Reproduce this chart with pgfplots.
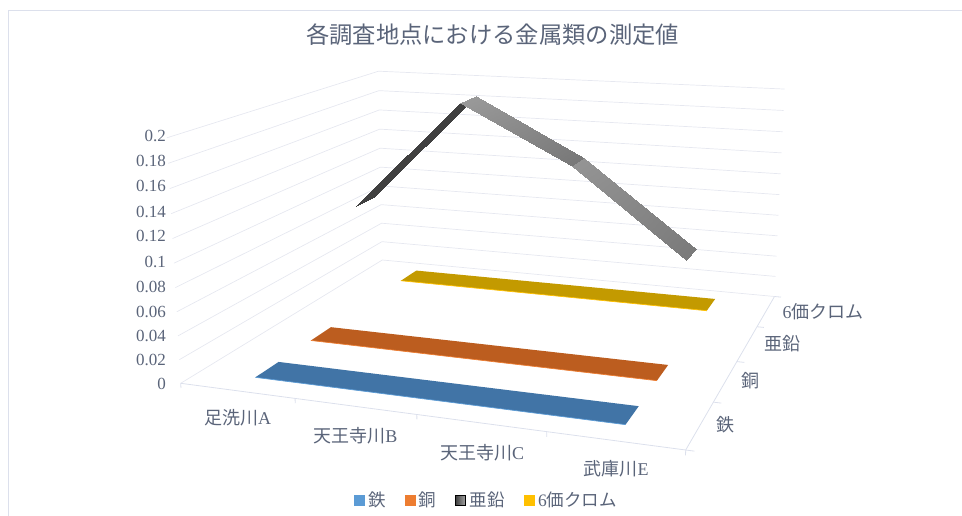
\documentclass[border=0pt]{standalone}
\usepackage{fontspec}
\usepackage{pgfplots}
\usepackage{pgfplotstable}
\pgfplotsset{compat=1.18}
\setmainfont{Liberation Serif}
\newfontfamily\cjk{Noto Sans CJK JP}

\definecolor{inkslate}{HTML}{5A6479}
\definecolor{gridc}{HTML}{E6E8F0}
\definecolor{axisc}{HTML}{DCE0EC}
\definecolor{ironface}{HTML}{4174A6}
\definecolor{ironedge}{HTML}{5B9BD5}
\definecolor{copperface}{HTML}{BC5D1F}
\definecolor{copperedge}{HTML}{ED7D31}
\definecolor{chromeface}{HTML}{C39A00}
\definecolor{chromeedge}{HTML}{FFC000}

% Perspective projection of the unit box (x: sites, y: metals, z: value/0.2) to page units
\newcommand\pw[3]{(1-0.1218*(#1)+0.31519*(#2)-0.042*(#3))}
\newcommand\pu[3]{((180.7+421.48*(#1)+322.10*(#2)-20.8*(#3))/\pw{#1}{#2}{#3})}
\newcommand\pv[3]{((383.3+11.89*(#1)-41.35*(#2)-251.3*(#3))/\pw{#1}{#2}{#3})}

% Box coordinates of a ribbon vertex: site index, metal index, side of the ribbon, value
\newcommand\cx{((\thisrow{site}+0.5)/4)}
\newcommand\cy[1]{((#1+0.5)/4+0.05*\thisrow{side})}
\newcommand\cz{(\thisrow{val}/0.2)}
\pgfplotsset{
  table/ribbon/.style={
    x expr={\pu{\cx}{\cy{#1}}{\cz}},
    y expr={\pv{\cx}{\cy{#1}}{\cz}}}
}
\newcommand\valuelabel[2]{\node[anchor=east, inner sep=0pt, text=inkslate, font=\fontsize{17}{17}\selectfont] at (axis cs:166,#2) {#1};}
\newcommand\boxlabel[3]{\node[text=inkslate, font=\fontsize{18}{18}\selectfont] at (axis cs:#1,#2) {#3};}

% Measured values; each site appears on the front (-1) and the back (+1) edge of its ribbon
\pgfplotstableread{
site side val
0 -1 0.001
1 -1 0.001
2 -1 0.001
3 -1 0.001
3 1 0.001
2 1 0.001
1 1 0.001
0 1 0.001
}\tabIron
\pgfplotstableread{
site side val
0 -1 0.001
1 -1 0.001
2 -1 0.001
3 -1 0.001
3 1 0.001
2 1 0.001
1 1 0.001
0 1 0.001
}\tabCopper
\pgfplotstableread{
site side val
0 -1 0.001
1 -1 0.001
2 -1 0.001
3 -1 0.001
3 1 0.001
2 1 0.001
1 1 0.001
0 1 0.001
}\tabChrome
% Zinc is built from one shaded quad per segment; tone is the grey level at each vertex
\pgfplotstableread{
site side val tone
0 -1 0.1 0.25
1 -1 0.2 0.25
1 1 0.2 0.25
0 1 0.1 0.25
1 -1 0.2 0.60
2 -1 0.15 0.47
2 1 0.15 0.47
1 1 0.2 0.60
2 -1 0.15 0.58
3 -1 0.075 0.48
3 1 0.075 0.48
2 1 0.15 0.58
}\tabZinc

% Wall gridline: left wall then back wall at one level
\pgfplotstableread{
x y
0 0
0 1
1 1
}\tabWall
\pgfplotstableread{
x y
0 0
1 0
1 1
}\tabFloorEdge

\begin{document}
\begin{tikzpicture}
\begin{axis}[
  scale only axis, width=962pt, height=516pt,
  xmin=0, xmax=962, ymin=0, ymax=516, y dir=reverse,
  axis lines=none, clip=true,
  colormap={tones}{gray(0cm)=(0); gray(1cm)=(1)},
  point meta min=0, point meta max=1,
  legend columns=4,
  legend cell align=left,
  legend style={
    at={(axis description cs:0.5055,0.031)}, anchor=center,
    draw=none, fill=none, font=\fontsize{17.5}{17.5}\selectfont\color{inkslate},
    /tikz/every even column/.append style={column sep=17pt},
    /tikz/every odd column/.append style={column sep=2pt},
  },
]
% page extent
\path (axis cs:0,0) rectangle (axis cs:962,516);
% chart frame
\addplot[axisc, line width=0.8pt, forget plot] coordinates {(8,516) (8,10) (962,10)};

% wall gridlines
\pgfplotsinvokeforeach{0,0.02,0.04,0.06,0.08,0.1,0.12,0.14,0.16,0.18,0.2}{
  \addplot[gridc, line width=0.7pt, forget plot] table[
    x expr={\pu{\thisrow{x}}{\thisrow{y}}{#1/0.2}},
    y expr={\pv{\thisrow{x}}{\thisrow{y}}{#1/0.2}}] {\tabWall};
}
% floor edges and their tick marks
\addplot[axisc, line width=0.8pt, forget plot] table[
    x expr={\pu{\thisrow{x}}{\thisrow{y}}{0}},
    y expr={\pv{\thisrow{x}}{\thisrow{y}}{0}}] {\tabFloorEdge};
\pgfplotsinvokeforeach{0,0.25,0.5,0.75,1}{
  \addplot[axisc, line width=0.8pt, forget plot] coordinates {
    ({\pu{#1}{0}{0}},{\pv{#1}{0}{0}}) ({\pu{#1}{0}{-0.02}},{\pv{#1}{0}{-0.02}})};
  \addplot[axisc, line width=0.8pt, forget plot] coordinates {
    ({\pu{1}{#1}{0}},{\pv{1}{#1}{0}}) ({\pu{1.015}{#1}{0}},{\pv{1.015}{#1}{0}})};
}

% ribbons, back to front
\addplot[fill=chromeface, draw=none, forget plot] table[ribbon=3] {\tabChrome} -- cycle;
\addplot[chromeedge, line width=0.7pt, forget plot, skip coords between index={4}{8}] table[ribbon=3] {\tabChrome};
\addplot[patch, patch type=rectangle, shader=interp, forget plot, colormap name=tones,
  point meta=\thisrow{tone}] table[ribbon=2] {\tabZinc};
\addplot[fill=copperface, draw=none, forget plot] table[ribbon=1] {\tabCopper} -- cycle;
\addplot[copperedge, line width=0.7pt, forget plot, skip coords between index={4}{8}] table[ribbon=1] {\tabCopper};
\addplot[fill=ironface, draw=none, forget plot] table[ribbon=0] {\tabIron} -- cycle;
\addplot[ironedge, line width=0.7pt, forget plot, skip coords between index={4}{8}] table[ribbon=0] {\tabIron};

% legend
\addlegendimage{legend image code/.code={\fill[ironedge] (0pt,-5pt) rectangle (10pt,5pt);}}
\addlegendentry{\cjk 鉄}
\addlegendimage{legend image code/.code={\fill[copperedge] (0pt,-5pt) rectangle (10pt,5pt);}}
\addlegendentry{\cjk 銅}
\addlegendimage{legend image code/.code={\shade[left color=black!75, right color=black!35] (0pt,-5pt) rectangle (10pt,5pt);}}
\addlegendentry{\cjk 亜鉛}
\addlegendimage{legend image code/.code={\fill[chromeedge] (0pt,-5pt) rectangle (10pt,5pt);}}
\addlegendentry{6{\cjk 価クロム}}

% title
\node[text=inkslate, font=\fontsize{23.3}{24}\selectfont\cjk] at (axis cs:492.5,35) {各調査地点における金属類の測定値};

% value axis labels
\valuelabel{0.2}{136}
\valuelabel{0.18}{161}
\valuelabel{0.16}{186}
\valuelabel{0.14}{212}
\valuelabel{0.12}{236}
\valuelabel{0.1}{262}
\valuelabel{0.08}{287}
\valuelabel{0.06}{312}
\valuelabel{0.04}{336}
\valuelabel{0.02}{360}
\valuelabel{0}{384}
% site labels
\boxlabel{237.5}{418}{{\cjk 足洗川}A}
\boxlabel{355.5}{436}{{\cjk 天王寺川}B}
\boxlabel{482}{453}{{\cjk 天王寺川}C}
\boxlabel{616}{469}{{\cjk 武庫川}E}
% metal labels
\boxlabel{725.5}{425}{\cjk 鉄}
\boxlabel{750.5}{381}{\cjk 銅}
\boxlabel{782}{344}{\cjk 亜鉛}
\boxlabel{823}{312}{6{\cjk 価クロム}}
\end{axis}
\end{tikzpicture}
\end{document}
